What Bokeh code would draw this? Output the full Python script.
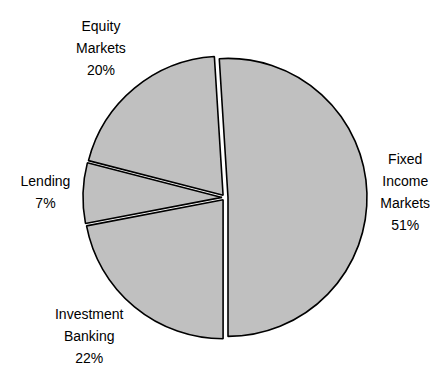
import math
from bokeh.plotting import figure
from bokeh.models import Range1d, ColumnDataSource
from bokeh.embed import file_html
from bokeh.resources import INLINE
from bokeh.core.properties import value

# Data (clockwise order, first slice starts at 6 o'clock)
categories = ["Investment Banking", "Lending", "Equity Markets", "Fixed Income Markets"]
label_lines = [["Investment", "Banking"], ["Lending"], ["Equity", "Markets"], ["Fixed", "Income", "Markets"]]
shares = [22, 7, 20, 51]
first_angle = 180.0  # degrees clockwise from 12 o'clock

# Layout / style
W, H = 430, 367
CX, CY_TOP = 224.5, 197.0
CY = H - CY_TOP
R = 139.0
EXPLODE = 3.0
FONT = "Liberation Sans"
FS = 14
LINE_H = 22
PAD = 3

p = figure(width=W, height=H, output_backend="svg", toolbar_location=None,
           x_range=Range1d(0, W), y_range=Range1d(0, H),
           x_axis_location=None, y_axis_location=None,
           min_border=0, outline_line_color=None,
           background_fill_color="white", border_fill_color="white")
p.grid.visible = False

total = float(sum(shares))
xs, ys, sa, ea = [], [], [], []
tx, ty, tt = [], [], []
theta = first_angle
for cat, lines, v in zip(categories, label_lines, shares):
    span = 360.0 * v / total
    t0, t1 = theta, theta + span
    tm = math.radians((t0 + t1) / 2.0)
    xs.append(CX + EXPLODE * math.sin(tm))
    ys.append(CY + EXPLODE * math.cos(tm))
    sa.append(math.radians(90.0 - t0))
    ea.append(math.radians(90.0 - t1))
    all_lines = lines + [f"{v}%"]
    n = len(all_lines)
    hw = max(len(s) for s in all_lines) * 0.55 * FS / 2.0
    hh = n * LINE_H / 2.0
    dist = R + EXPLODE + 10 + abs(math.sin(tm)) * hw + abs(math.cos(tm)) * hh
    cx_l = CX + dist * math.sin(tm)
    cy_l = CY + dist * math.cos(tm)
    # keep the whole label block inside the canvas
    bottom = cy_l - (n - 1) * LINE_H / 2.0 - FS / 2.0
    if bottom < PAD:
        shift = PAD - bottom
        cy_l += shift
        cx_l -= shift * 0.4
    for i, s in enumerate(all_lines):
        tx.append(cx_l)
        ty.append(cy_l + ((n - 1) / 2.0 - i) * LINE_H)
        tt.append(s)
    theta = t1

src = ColumnDataSource(dict(x=xs, y=ys, sa=sa, ea=ea))
p.wedge(x="x", y="y", radius=R, start_angle="sa", end_angle="ea", direction="clock",
        source=src, fill_color="#C0C0C0", line_color="black", line_width=1.6)

lsrc = ColumnDataSource(dict(x=tx, y=ty, t=tt))
p.text(x="x", y="y", text="t", source=lsrc, text_align="center", text_baseline="middle",
       text_font=value(FONT), text_font_size=f"{FS}px", text_color="black")

open("out.html", "w").write(file_html(p, INLINE))
